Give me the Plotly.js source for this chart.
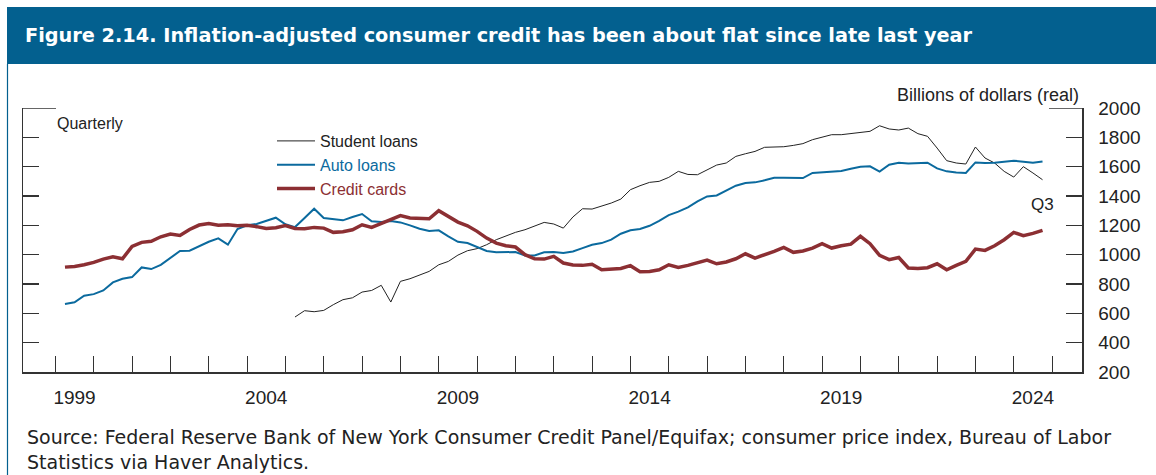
<!DOCTYPE html>
<html>
<head>
<meta charset="utf-8">
<script src="https://cdn.plot.ly/plotly-3.0.1.min.js"></script>
<style>html,body{margin:0;padding:0;background:#fff;}#chart{width:1156px;height:475px;}</style>
</head>
<body>
<div id="chart"></div>
<script>
// Quarterly series, 1999 Q1 - 2024 Q3 (billions of real dollars)
const firstYear = 1999;
const creditCards = [915,920,931,947,970,986,972,1056,1084,1091,1122,1141,1131,1172,1202,1213,1200,1204,1197,1200,1191,1178,1184,1198,1179,1177,1186,1181,1152,1156,1170,1204,1186,1211,1238,1266,1250,1245,1245,1300,1261,1222,1197,1159,1113,1079,1061,1052,1000,972,970,988,943,929,927,934,897,902,906,925,884,886,897,931,913,927,943,963,938,950,972,1006,977,997,1022,1050,1016,1025,1045,1075,1045,1061,1072,1125,1075,995,966,981,909,906,911,938,897,927,954,1038,1029,1061,1102,1152,1129,1145,1166];
const autoLoans = [663,675,720,731,756,811,836,847,913,902,931,977,1025,1027,1056,1088,1111,1068,1175,1200,1209,1232,1252,1207,1188,1250,1313,1250,1243,1234,1257,1277,1227,1222,1229,1220,1200,1177,1161,1166,1125,1088,1079,1052,1025,1016,1018,1018,995,995,1016,1018,1011,1022,1045,1068,1079,1102,1143,1166,1175,1197,1231,1270,1293,1322,1363,1397,1404,1436,1470,1488,1493,1507,1525,1525,1522,1522,1557,1563,1568,1570,1586,1600,1602,1566,1613,1627,1622,1622,1627,1588,1568,1561,1557,1629,1625,1627,1632,1641,1634,1627,1636];
// Student loans begin in 2005 Q1
const studentStartYear = 2005;
const studentLoans = [575,618,611,620,659,693,706,745,756,791,677,818,836,859,886,931,954,997,1027,1041,1068,1102,1129,1152,1170,1197,1220,1209,1181,1257,1313,1311,1329,1352,1379,1443,1470,1493,1500,1527,1568,1547,1545,1579,1611,1625,1670,1688,1704,1732,1734,1736,1745,1757,1784,1802,1818,1818,1825,1832,1841,1879,1857,1850,1863,1825,1807,1727,1641,1625,1618,1734,1659,1625,1568,1529,1600,1557,1511];

const yearLabels = ['1999','2004','2009','2014','2019','2024'];
const yTicks = [200,400,600,800,1000,1200,1400,1600,1800,2000];

// quarter-end positions as decimal years
function quarterEnds(startYear, n){ const a=[]; for(let i=0;i<n;i++){ a.push(startYear + (i+1)*0.25); } return a; }
const xAll = quarterEnds(firstYear, creditCards.length);
const xStudent = quarterEnds(studentStartYear, studentLoans.length);
const labelPos = yearLabels.map(y => Number(y) + 0.5);

const FONT = 'Liberation Sans, Arial, sans-serif';
const WIDE = 'DejaVu Sans, Verdana, sans-serif';
const BLUE = '#0b6a9e', RED = '#8c2f33', DARK = '#222222', BAR = '#03608f';

const traces = [
  {x: xStudent, y: studentLoans, type:'scatter', mode:'lines', name:'<span style="color:#222222">Student loans</span>', line:{color:DARK, width:1}},
  {x: xAll, y: autoLoans, type:'scatter', mode:'lines', name:'<span style="color:#0b6a9e">Auto loans</span>', line:{color:BLUE, width:2}},
  {x: xAll, y: creditCards, type:'scatter', mode:'lines', name:'<span style="color:#8c2f33">Credit cards</span>', line:{color:RED, width:3.5}}
];

const W = 1059, H = 264; // plot area in px
const layout = {
  width:1156, height:475, autosize:false,
  margin:{l:23, r:74, t:108, b:103, pad:0},
  paper_bgcolor:'#fff', plot_bgcolor:'#fff',
  font:{family:FONT, color:DARK},
  title:{text:'<b>Figure 2.14. Inflation-adjusted consumer credit has been about flat since late last year</b>',
         font:{family:WIDE, size:19.3, color:'#ffffff'}, xref:'container', yref:'container',
         x:25/1156, xanchor:'left', y:1-35.5/475, yanchor:'middle'},
  showlegend:true,
  legend:{x:(272-23)/W, y:(372-124)/H, xanchor:'left', yanchor:'top', bgcolor:'rgba(0,0,0,0)',
          font:{family:FONT, size:16, color:DARK}, tracegroupgap:0, itemwidth:38},
  xaxis:{range:[1998.155, 2025.78], showline:true, linecolor:'#333', linewidth:1.5, mirror:false,
         tickmode:'array', tickvals:labelPos, ticktext:yearLabels, ticks:'', showgrid:false, zeroline:false,
         tickfont:{family:FONT, size:19, color:DARK}, ticklabelstandoff:8,
         minor:{tickmode:'linear', tick0:1999, dtick:1, ticks:'inside', ticklen:16, tickcolor:'#333', tickwidth:1, showgrid:false}},
  yaxis:{range:[200,2000], side:'right', showline:true, mirror:'ticks', linecolor:'#333', linewidth:1.5,
         ticks:'inside', ticklen:16, tickcolor:'#333', tickwidth:1.5, tickmode:'array', tickvals:yTicks,
         showgrid:false, zeroline:false, tickfont:{family:FONT, size:19, color:DARK}, ticklabelstandoff:11},
  shapes:[
    {type:'rect', xref:'paper', yref:'paper', x0:(7-23)/W, x1:(1156-23)/W, y0:(372-64)/H, y1:(372-7)/H, fillcolor:BAR, line:{width:0}, layer:'below'},
    {type:'line', xref:'paper', yref:'paper', x0:(7.5-23)/W, x1:(7.5-23)/W, y0:(372-64)/H, y1:(372-476)/H, line:{color:BAR, width:1.2}},
    {type:'line', xref:'paper', yref:'y', x0:0, x1:33/W, y0:2000, y1:2000, line:{color:'#333', width:1.5}},
    {type:'line', xref:'paper', yref:'y', x0:1-33/W, x1:1, y0:2000, y1:2000, line:{color:'#333', width:1.5}}
  ],
  annotations:[
    {text:'Quarterly', xref:'paper', yref:'paper', x:(55-23)/W, y:(372-124)/H, xanchor:'left', yanchor:'middle', showarrow:false, font:{family:FONT, size:16, color:DARK}},
    {text:'Billions of dollars (real)', xref:'paper', yref:'paper', x:(1081-23)/W, y:(372-94.5)/H, xanchor:'right', yanchor:'middle', showarrow:false, font:{family:FONT, size:18, color:DARK}},
    {text:'Q3', xref:'paper', yref:'paper', x:(1042-23)/W, y:(372-204.5)/H, xanchor:'center', yanchor:'middle', showarrow:false, font:{family:FONT, size:17, color:DARK}},
    {text:'Source: Federal Reserve Bank of New York Consumer Credit Panel/Equifax; consumer price index, Bureau of Labor<br>Statistics via Haver Analytics.',
     xref:'paper', yref:'paper', x:(25-23)/W, y:(372-424)/H, xanchor:'left', yanchor:'top', align:'left', showarrow:false,
     font:{family:WIDE, size:19, color:DARK}}
  ]
};

Plotly.newPlot('chart', traces, layout, {displayModeBar:false, staticPlot:true});
</script>
</body>
</html>
